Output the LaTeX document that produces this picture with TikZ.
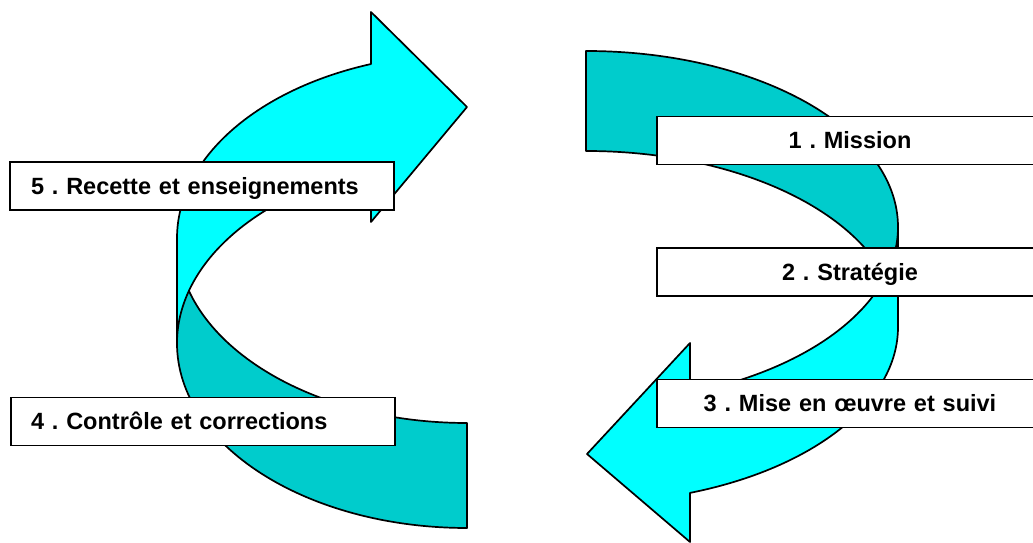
\documentclass[tikz,border=0pt]{standalone}
\usepackage{fontspec}
\setmainfont{Liberation Sans}
\definecolor{bandback}{RGB}{0,204,204}
\definecolor{bandfront}{RGB}{0,255,255}
\begin{document}
\frenchspacing
\begin{tikzpicture}[x=1pt,y=1pt,
  backband/.style={fill=bandback,draw=black,line width=1.7pt,line join=round},
  frontband/.style={fill=bandfront,draw=black,line width=1.7pt,line join=round},
  stepbox/.style={draw=black,fill=white,line width=1.7pt,minimum height=48pt,
    text height=16.8pt,text depth=0pt,inner ysep=0pt,
    font=\fontsize{23.5}{28}\selectfont\bfseries\frenchspacing}]
\clip (0,0) rectangle (1033,543);

% left curved arrow (pointing right, top)
\draw[backband] (177,199.7) arc[start angle=180,end angle=270,x radius=290,y radius=184.7]
  -- (467,120) arc[start angle=270,end angle=180,x radius=290,y radius=184.7] -- cycle;
\draw[frontband] (177,304.7) arc[start angle=180,end angle=109.33,x radius=290,y radius=184.7]
  -- (371,531) -- (467,436) -- (371,321) -- (371,374)
  arc[start angle=109.33,end angle=180,x radius=290,y radius=184.7] -- cycle;

% right curved arrow (pointing left, bottom)
\draw[backband] (586,492) arc[start angle=90,end angle=0,x radius=312,y radius=176]
  -- (898,216) arc[start angle=0,end angle=90,x radius=312,y radius=176] -- cycle;
\draw[frontband] (898,316) arc[start angle=0,end angle=-70.53,x radius=312,y radius=176]
  -- (690,200) -- (587,89) -- (690,1) -- (690,50.1)
  arc[start angle=-70.53,end angle=0,x radius=312,y radius=176] -- cycle;

% step boxes
\node[stepbox,text width=342pt,align=left,inner xsep=21pt] (s5) at (202,357) {5 . Recette et enseignements};
\node[stepbox,text width=344pt,align=left,inner xsep=20pt] (s4) at (203,121.5) {4 . Contrôle et corrections};
\node[stepbox,text width=346pt,align=center,inner xsep=20pt] (s1) at (850,402.5) {1 . Mission};
\node[stepbox,text width=346pt,align=center,inner xsep=20pt] (s2) at (850,271) {2 . Stratégie};
\node[stepbox,text width=346pt,align=center,inner xsep=20pt] (s3) at (850,139.5) {3 . Mise en œuvre et suivi};
\end{tikzpicture}
\end{document}
